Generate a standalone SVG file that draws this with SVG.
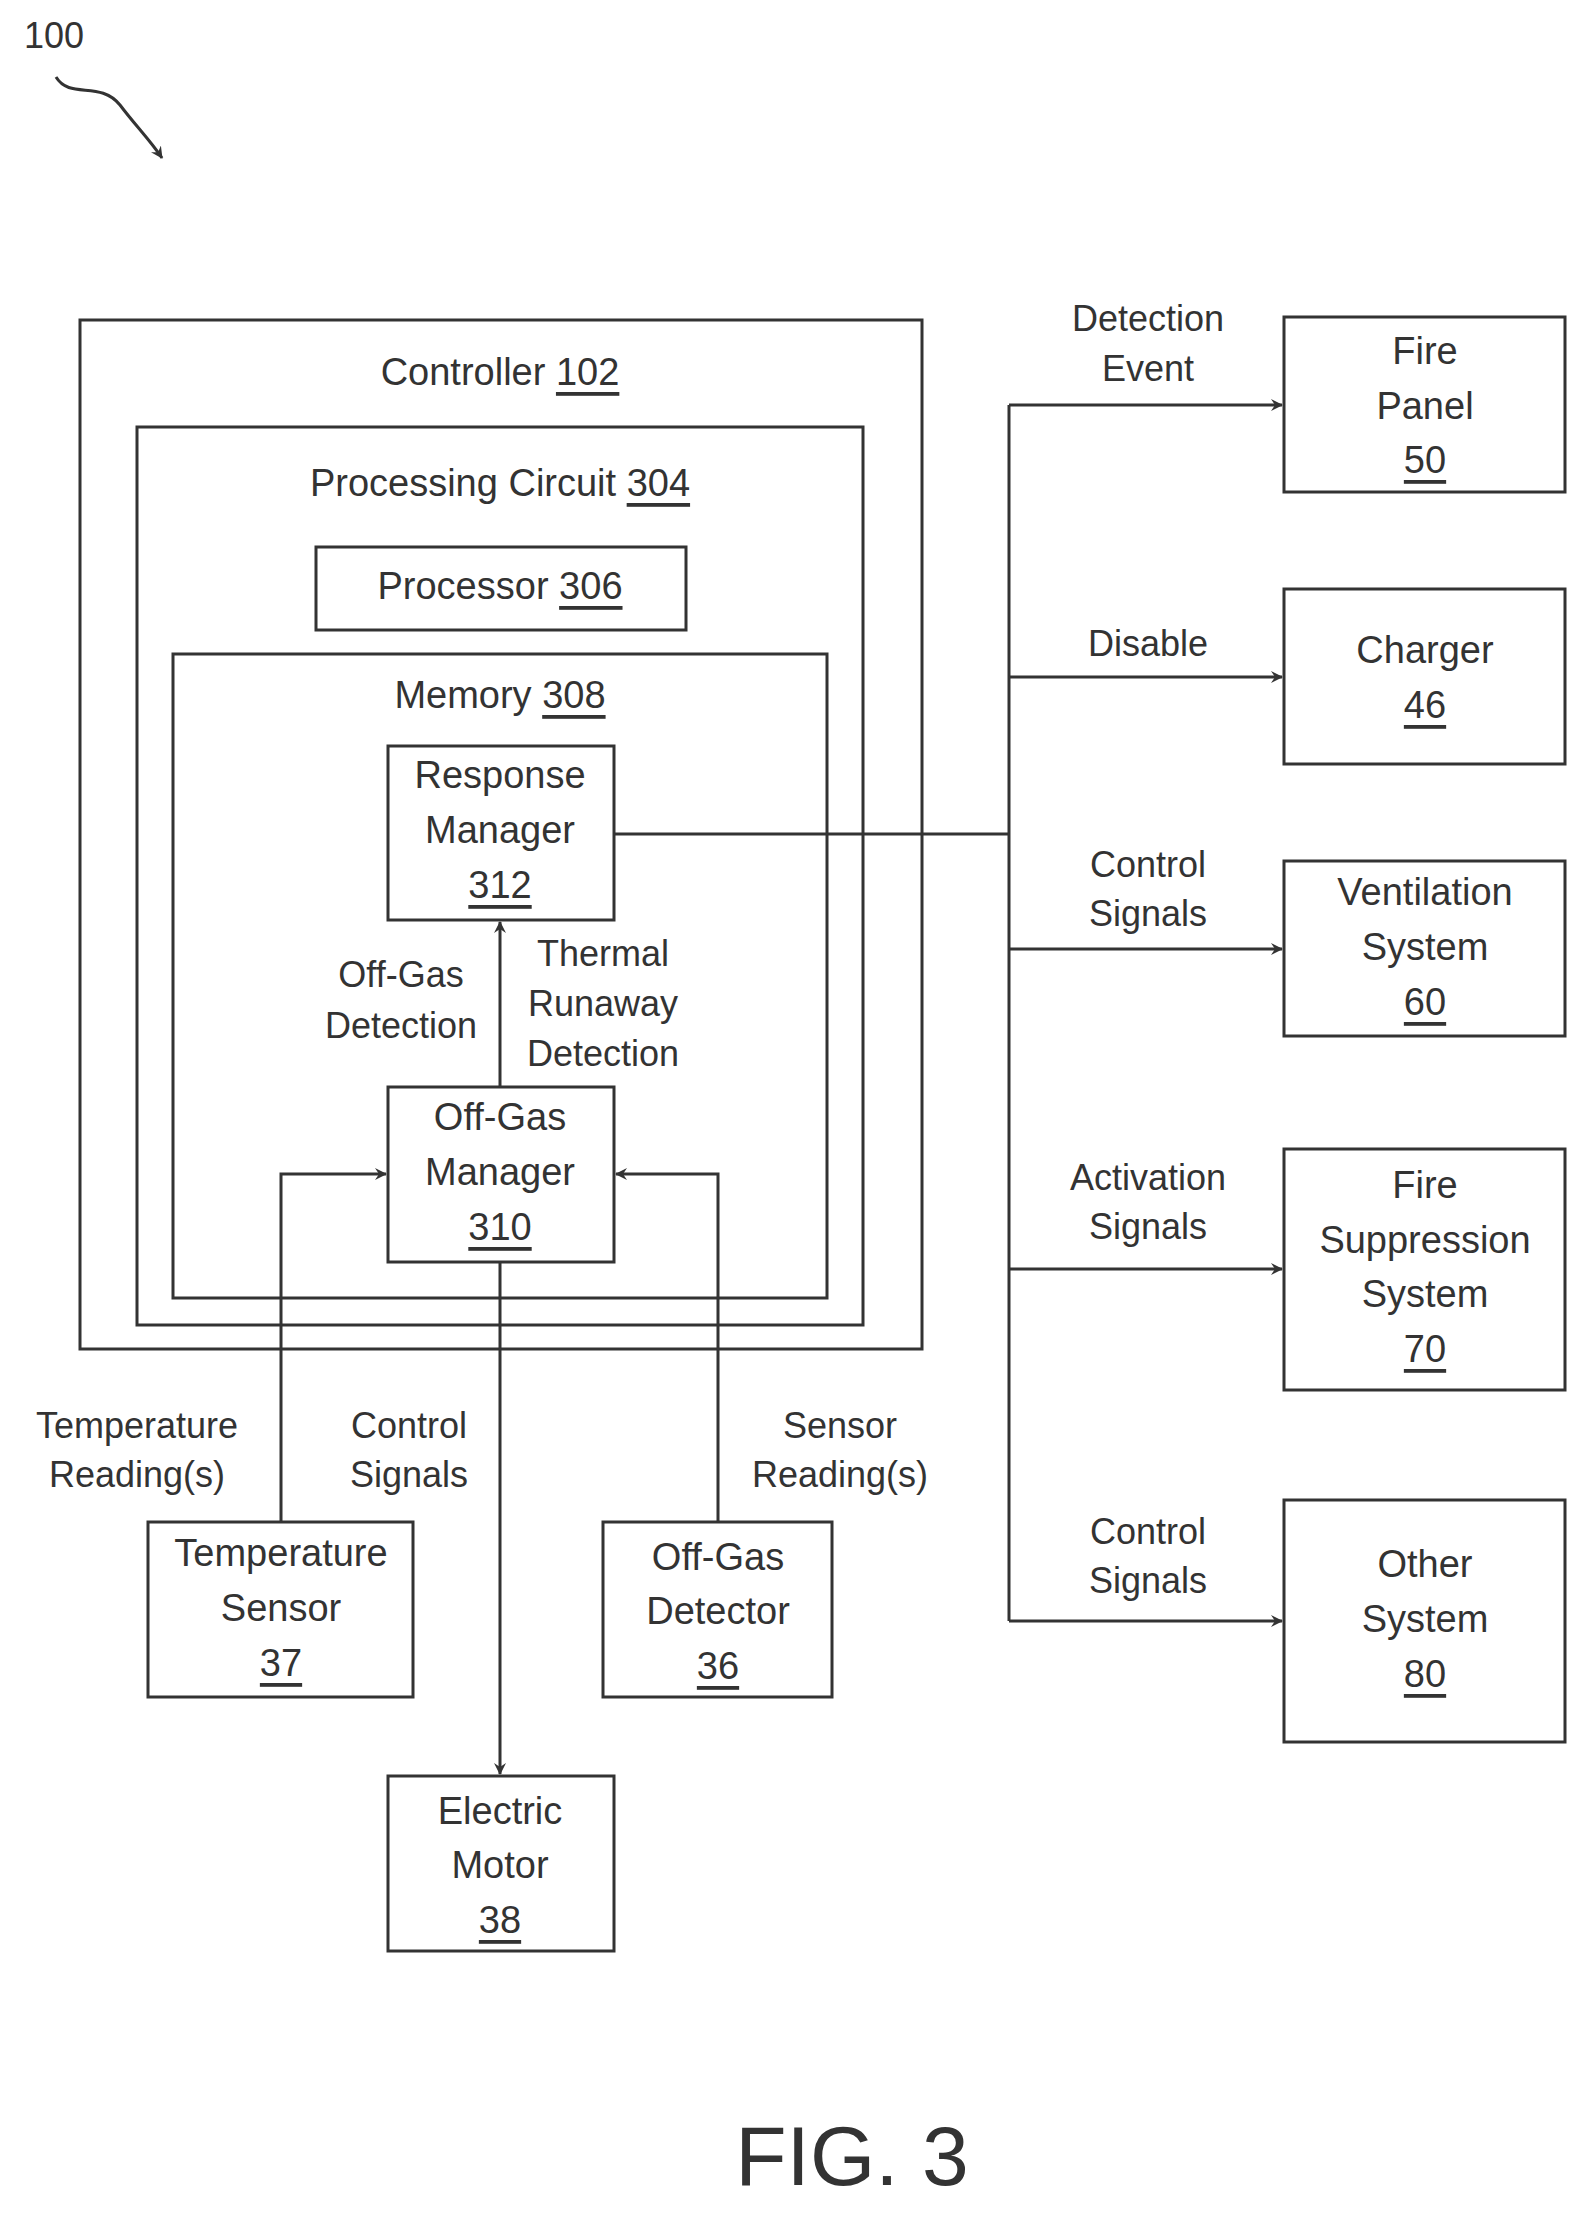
<svg xmlns="http://www.w3.org/2000/svg" width="1592" height="2216" viewBox="0 0 1592 2216">
<style>
rect{fill:none;stroke:#333;stroke-width:3}
text{font-family:"Liberation Sans",Arial,sans-serif;font-size:38px;fill:#333;text-anchor:middle;dominant-baseline:central}
.u{text-decoration:underline}
.c path{fill:none;stroke:#333;stroke-width:3}
</style>
<defs><marker id="a" markerWidth="12" markerHeight="12" refX="11" refY="6" orient="auto" markerUnits="userSpaceOnUse"><path d="M0,0 L12,6 L0,12 L4,6 Z" fill="#333"/></marker></defs>
<rect width="1592" height="2216" style="fill:#fff;stroke:none"/>
<text x="54" y="35" style="font-size:36px">100</text>
<path d="M56,77 C70,100 100,80 120,105 C135,125 150,140 162,158" fill="none" stroke="#333" stroke-width="3" marker-end="url(#a)"/>
<g id="controller"><rect x="80" y="320" width="842" height="1029"/><text x="500" y="372">Controller <tspan class="u">102</tspan></text></g>
<g id="pc"><rect x="137" y="427" width="726" height="898"/><text x="500" y="483">Processing Circuit <tspan class="u">304</tspan></text></g>
<g id="processor"><rect x="316" y="547" width="370" height="83"/><text x="500" y="586">Processor <tspan class="u">306</tspan></text></g>
<g id="memory"><rect x="173" y="654" width="654" height="644"/><text x="500" y="695">Memory <tspan class="u">308</tspan></text></g>
<g id="rm"><rect x="388" y="746" width="226" height="174"/><text x="500" y="775">Response</text><text x="500" y="830">Manager</text><text x="500" y="885" class="u">312</text></g>
<g id="ogm"><rect x="388" y="1087" width="226" height="175"/><text x="500" y="1117">Off-Gas</text><text x="500" y="1172">Manager</text><text x="500" y="1227" class="u">310</text></g>
<g id="ts"><rect x="148" y="1522" width="265" height="175"/><text x="281" y="1553">Temperature</text><text x="281" y="1608">Sensor</text><text x="281" y="1663" class="u">37</text></g>
<g id="ogd"><rect x="603" y="1522" width="229" height="175"/><text x="718" y="1557">Off-Gas</text><text x="718" y="1611">Detector</text><text x="718" y="1666" class="u">36</text></g>
<g id="em"><rect x="388" y="1776" width="226" height="175"/><text x="500" y="1811">Electric</text><text x="500" y="1865">Motor</text><text x="500" y="1920" class="u">38</text></g>
<g id="fp"><rect x="1284" y="317" width="281" height="175"/><text x="1425" y="351">Fire</text><text x="1425" y="406">Panel</text><text x="1425" y="460" class="u">50</text></g>
<g id="ch"><rect x="1284" y="589" width="281" height="175"/><text x="1425" y="650">Charger</text><text x="1425" y="705" class="u">46</text></g>
<g id="vs"><rect x="1284" y="861" width="281" height="175"/><text x="1425" y="892">Ventilation</text><text x="1425" y="947">System</text><text x="1425" y="1002" class="u">60</text></g>
<g id="fs"><rect x="1284" y="1149" width="281" height="241"/><text x="1425" y="1185">Fire</text><text x="1425" y="1240">Suppression</text><text x="1425" y="1294">System</text><text x="1425" y="1349" class="u">70</text></g>
<g id="os"><rect x="1284" y="1500" width="281" height="242"/><text x="1425" y="1564">Other</text><text x="1425" y="1619">System</text><text x="1425" y="1674" class="u">80</text></g>
<g class="c" id="connectors">
<path d="M500,1087 V922" marker-end="url(#a)"/>
<path d="M281,1522 V1174 H386" marker-end="url(#a)"/>
<path d="M718,1522 V1174 H616" marker-end="url(#a)"/>
<path d="M500,1262 V1774" marker-end="url(#a)"/>
<path d="M614,834 H1009"/>
<path d="M1009,405 V1621"/>
<path d="M1009,405 H1282" marker-end="url(#a)"/>
<path d="M1009,677 H1282" marker-end="url(#a)"/>
<path d="M1009,949 H1282" marker-end="url(#a)"/>
<path d="M1009,1269 H1282" marker-end="url(#a)"/>
<path d="M1009,1621 H1282" marker-end="url(#a)"/>
</g>
<g id="labels" style="font-size:36px">
<text x="401" y="974" style="font-size:36px">Off-Gas</text><text x="401" y="1025" style="font-size:36px">Detection</text>
<text x="603" y="953" style="font-size:36px">Thermal</text><text x="603" y="1003" style="font-size:36px">Runaway</text><text x="603" y="1053" style="font-size:36px">Detection</text>
<text x="137" y="1425" style="font-size:36px">Temperature</text><text x="137" y="1474" style="font-size:36px">Reading(s)</text>
<text x="409" y="1425" style="font-size:36px">Control</text><text x="409" y="1474" style="font-size:36px">Signals</text>
<text x="840" y="1425" style="font-size:36px">Sensor</text><text x="840" y="1474" style="font-size:36px">Reading(s)</text>
<text x="1148" y="318" style="font-size:36px">Detection</text><text x="1148" y="368" style="font-size:36px">Event</text>
<text x="1148" y="643" style="font-size:36px">Disable</text>
<text x="1148" y="864" style="font-size:36px">Control</text><text x="1148" y="913" style="font-size:36px">Signals</text>
<text x="1148" y="1177" style="font-size:36px">Activation</text><text x="1148" y="1226" style="font-size:36px">Signals</text>
<text x="1148" y="1531" style="font-size:36px">Control</text><text x="1148" y="1580" style="font-size:36px">Signals</text>
</g>
<text x="852" y="2156" style="font-size:84px">FIG. 3</text>
</svg>
